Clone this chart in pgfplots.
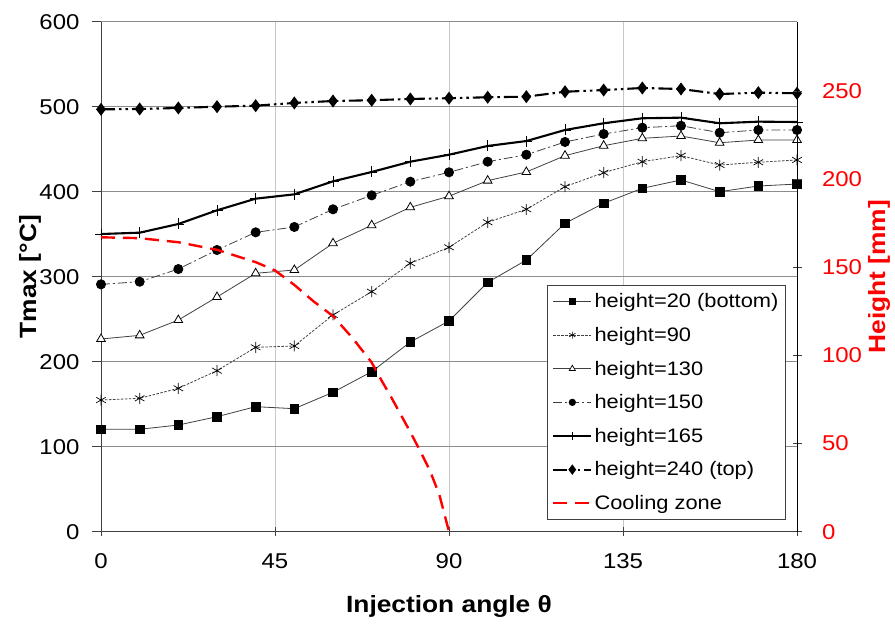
\documentclass[border=0pt]{standalone}
\usepackage{fontspec}
\setmainfont{Liberation Sans}[FakeStretch=1.12]
\usepackage{pgfplots}
\usepackage{pgfplotstable}
\pgfplotsset{compat=1.18}
\definecolor{ln}{HTML}{404040}
\pgfplotstableread{
th  s20    s90    s130   s150   s165   s240
0   120.5  154.9  226.7  291.0  350.2  496.9
10  120.5  156.9  231.0  294.1  351.8  497.3
20  125.5  168.7  249.0  309.0  362.0  498.5
30  135.3  189.4  276.1  331.4  378.1  500.0
40  147.1  216.9  304.0  352.2  391.8  501.2
50  144.7  218.5  307.9  358.5  396.9  504.4
60  164.0  255.0  339.3  379.3  412.2  506.7
70  188.2  282.4  360.5  395.7  423.2  507.6
80  223.2  315.8  381.6  411.8  435.3  509.1
90  247.9  334.6  394.7  422.8  443.5  510.0
100 293.4  364.0  413.0  435.3  453.8  511.1
110 319.5  379.3  423.2  443.5  459.6  511.8
120 362.8  405.9  442.4  458.5  472.6  517.6
130 386.4  422.4  454.1  467.9  480.5  519.6
140 404.0  435.3  462.8  475.3  486.4  522.0
150 413.8  442.4  465.5  477.6  487.1  520.8
160 400.0  431.4  457.6  469.4  480.5  514.9
170 406.7  434.6  460.8  472.6  482.4  516.5
180 409.0  437.3  460.8  472.6  482.0  515.8
}\data
\pgfplotstableread{
th    h
0     167.0
10    166.5
20    164.2
30    159.9
40    152.9
45    148.2
50    140.0
55    130.6
60    122.3
65    110.0
70    96.0
72.5  86.0
75    76.5
77.5  66.5
80    56.5
82.5  46.0
85    35.0
87.5  21.0
90    0.0
}\cool
\begin{document}
\begin{tikzpicture}
\begin{axis}[name=ax,
  scale only axis, width=696pt, height=510pt,
  xmin=0, xmax=180, ymin=0, ymax=600,
  xtick={0,45,90,135,180}, ytick={0,100,...,600},
  axis x line*=bottom, axis y line*=left,
  axis line style={black!75, line width=0.9pt},
  xtick align=center, ytick align=outside, major tick length=9pt,
  tick style={black!75, line width=0.8pt},
  xmajorgrids, ymajorgrids,
  x grid style={black!22, line width=0.9pt},
  y grid style={black!45, line width=0.9pt},
  /pgf/number format/assume math mode=true,
  tick label style={font=\fontsize{21.4}{23}\selectfont},
  xticklabel style={yshift=-14pt},
  yticklabel style={xshift=-9pt},
  xlabel={\textbf{Injection angle θ}},
  ylabel={\textbf{Tmax [°C]}},
  label style={font=\fontsize{23.5}{26}\selectfont},
  xlabel style={at={(axis description cs:0.5,-0.147)}, anchor=center},
  ylabel style={at={(axis description cs:-0.102,0.5)}, anchor=center, rotate=0},
  clip=false,
]
\addplot[ln, line width=0.8pt, mark=square*, mark size=4.3pt, mark options={black, solid}] table[x=th,y=s20] {\data};
\addplot[ln, line width=0.8pt, dash pattern=on 2.5pt off 1.5pt, mark=asterisk, mark size=5.5pt, mark options={black, solid, line width=0.7pt}] table[x=th,y=s90] {\data};
\addplot[ln, line width=0.8pt, mark=triangle*, mark size=5pt, mark options={black, fill=white, solid, line width=0.8pt}] table[x=th,y=s130] {\data};
\addplot[ln, line width=0.8pt, dash pattern=on 9pt off 3pt on 2pt off 3pt, mark=*, mark size=4.6pt, mark options={black, solid}] table[x=th,y=s150] {\data};
\addplot[black, line width=2.1pt, mark=+, mark size=5.5pt, mark options={black, solid, line width=0.9pt}] table[x=th,y=s165] {\data};
\addplot[black, line width=2.1pt, dash pattern=on 14pt off 4pt on 2.5pt off 4pt on 2.5pt off 4pt, mark=diamond*, mark size=4.8pt, mark options={black, solid}] table[x=th,y=s240] {\data};
\end{axis}
\begin{axis}[
  scale only axis, width=696pt, height=510pt,
  xmin=0, xmax=180, ymin=0, ymax=289.3,
  ytick={0,50,...,250},
  axis x line=none, axis y line*=right,
  axis line style={black, line width=0.9pt},
  tick align=center, major tick length=9pt,
  tick style={black!75, line width=0.8pt},
  /pgf/number format/assume math mode=true,
  yticklabel style={font=\fontsize{21.4}{23}\selectfont, red, xshift=17pt},
  ylabel={\textbf{Height [mm]}},
  ylabel style={font=\fontsize{23.5}{26}\selectfont, red, at={(axis description cs:1.118,0.5)}, anchor=center, rotate=0},
  legend style={at={(0.984,0.024)}, anchor=south east, draw=black!75, line width=0.8pt, fill=white,
    font=\fontsize{19.5}{22}\selectfont, row sep=14pt, inner xsep=5pt, inner ysep=6pt},
  legend cell align=left,
  legend image code/.code={\draw[mark repeat=2,mark phase=2] plot coordinates {(0pt,0pt) (19pt,0pt) (38pt,0pt)};},
]
\addlegendimage{ln, line width=0.8pt, mark=square*, mark size=3.2pt, mark options={black, solid}}
\addlegendentry{height=20 (bottom)}
\addlegendimage{ln, line width=0.8pt, dash pattern=on 2.5pt off 1.5pt, mark=asterisk, mark size=3.5pt, mark options={black, solid, line width=0.6pt}}
\addlegendentry{height=90}
\addlegendimage{ln, line width=0.8pt, mark=triangle*, mark size=3.5pt, mark options={black, fill=white, solid, line width=0.7pt}}
\addlegendentry{height=130}
\addlegendimage{ln, line width=0.8pt, dash pattern=on 9pt off 3pt on 2pt off 3pt, mark=*, mark size=3.2pt, mark options={black, solid}}
\addlegendentry{height=150}
\addlegendimage{black, line width=2.1pt, mark=+, mark size=4pt, mark options={black, solid, line width=0.8pt}}
\addlegendentry{height=165}
\addlegendimage{black, line width=2.1pt, dash pattern=on 14pt off 4pt on 2.5pt off 4pt on 2.5pt off 4pt, mark=diamond*, mark size=3.5pt, mark options={black, solid}}
\addlegendentry{height=240 (top)}
\addplot[red, line width=2.4pt, dash pattern=on 14pt off 8pt] table[x=th,y=h] {\cool};
\addlegendentry{Cooling zone}
\end{axis}
\pgfresetboundingbox
\path ([shift={(-101pt,-91.3pt)}]ax.south west) rectangle ([shift={(98pt,21.7pt)}]ax.north east);
\end{tikzpicture}
\end{document}
